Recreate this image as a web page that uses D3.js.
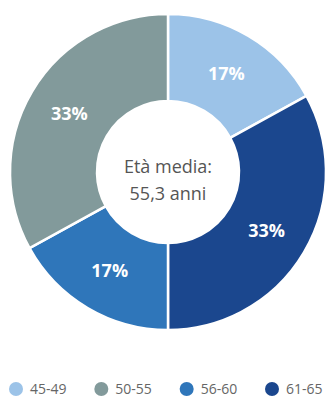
<!DOCTYPE html>
<html>
<head>
<meta charset="utf-8">
<script src="https://cdn.jsdelivr.net/npm/d3@7"></script>
<style>
  html, body { margin: 0; padding: 0; background: #fff; }
  svg { display: block; }
</style>
</head>
<body>
<svg id="chart" width="329" height="398"></svg>
<script>
// Age bands and their shares (%), in drawing order clockwise from 12 o'clock
const sliceGroups = ["45-49", "61-65", "56-60", "50-55"];
const sliceValues = [17, 33, 17, 33];

// Legend order
const legendGroups = ["45-49", "50-55", "56-60", "61-65"];

const centerLines = ["Età media:", "55,3 anni"];

const palette = {
  "45-49": "#9cc3e8",
  "50-55": "#829a9b",
  "56-60": "#2f76ba",
  "61-65": "#1b478e"
};

const svg = d3.select("#chart");
const cx = 168, cy = 172, rOuter = 158, rInner = 71;

const pie = d3.pie().sort(null).value(d => d.value);
const arcs = pie(sliceGroups.map((g, i) => ({ group: g, value: sliceValues[i] })));

const arc = d3.arc().innerRadius(rInner).outerRadius(rOuter);

const g = svg.append("g").attr("transform", `translate(${cx},${cy})`);

g.selectAll("path.slice")
  .data(arcs)
  .join("path")
  .attr("class", "slice")
  .attr("d", arc)
  .attr("fill", d => palette[d.data.group])
  .attr("stroke", "#fff")
  .attr("stroke-width", 2.5);

g.selectAll("text.pct")
  .data(arcs)
  .join("text")
  .attr("class", "pct")
  .attr("transform", d => `translate(${arc.centroid(d)})`)
  .attr("text-anchor", "middle")
  .attr("dy", "0.36em")
  .attr("fill", "#fff")
  .attr("font-family", "'Open Sans', sans-serif")
  .attr("font-weight", 700)
  .attr("font-size", 18)
  .text(d => d.data.value + "%");

// Centre caption
g.selectAll("text.center")
  .data(centerLines)
  .join("text")
  .attr("class", "center")
  .attr("x", 0)
  .attr("y", (d, i) => i === 0 ? 1 : 28)
  .attr("text-anchor", "middle")
  .attr("fill", "#555")
  .attr("font-family", "'Open Sans', sans-serif")
  .attr("font-size", 18)
  .text(d => d);

// Legend
const legendX = d3.scalePoint().domain(legendGroups).range([16, 272]);
const legend = svg.append("g").attr("transform", "translate(0,389)");
const items = legend.selectAll("g.item")
  .data(legendGroups)
  .join("g")
  .attr("class", "item")
  .attr("transform", d => `translate(${legendX(d)},0)`);

items.append("circle")
  .attr("r", 7)
  .attr("fill", d => palette[d]);

items.append("text")
  .attr("x", 14)
  .attr("dy", "0.36em")
  .attr("fill", "#666")
  .attr("font-family", "'Open Sans', sans-serif")
  .attr("font-size", 14)
  .text(d => d);
</script>
</body>
</html>
